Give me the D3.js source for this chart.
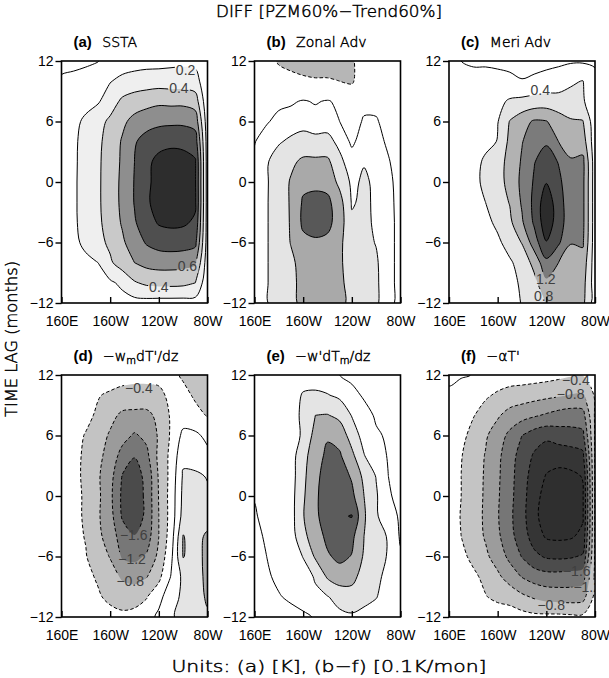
<!DOCTYPE html>
<html>
<head>
<meta charset="utf-8">
<script src="https://cdn.jsdelivr.net/npm/d3@7"></script>
<style>
  body { margin: 0; background: #fff; }
  svg { display: block; }
  .thin { font-family: "DejaVu Sans", sans-serif; font-weight: 200; fill: #000; stroke: #000; stroke-width: 0.45px; }
  .helv { font-family: "Liberation Sans", Arial, sans-serif; }
</style>
</head>
<body>
<svg id="chart" width="609" height="678"></svg>
<script>
// grid: longitude (deg E) x time lag (months), rows run from lag +12 down to -12
const lons = [160, 170, 180, 190, 200, 210, 220, 230, 240, 250, 260, 270, 280];
const lags = [12, 10, 8, 6, 4, 2, 0, -2, -4, -6, -8, -10, -12];
const lonTicks = [160, 200, 240, 280];
const lonTickLabels = ["160E", "160W", "120W", "80W"];
const lagTicks = [12, 6, 0, -6, -12];

// (a) SSTA [K]
const sstaGrid = [
  [-0.06, -0.05, -0.03, -0.005, 0.06, 0.10, 0.12, 0.13, 0.13, 0.15, 0.16, 0.15, 0.05],
  [0.03, 0.05, 0.07, 0.10, 0.19, 0.25, 0.28, 0.30, 0.31, 0.30, 0.30, 0.28, 0.05],
  [0.12, 0.13, 0.15, 0.18, 0.30, 0.44, 0.50, 0.53, 0.56, 0.55, 0.55, 0.50, 0.05],
  [0.10, 0.16, 0.23, 0.33, 0.44, 0.56, 0.66, 0.72, 0.75, 0.76, 0.76, 0.72, 0.08],
  [0.10, 0.17, 0.26, 0.36, 0.48, 0.62, 0.78, 0.88, 0.94, 0.96, 0.95, 0.90, 0.10],
  [0.10, 0.17, 0.27, 0.37, 0.49, 0.63, 0.80, 0.96, 1.05, 1.08, 1.07, 1.02, 0.10],
  [0.10, 0.17, 0.28, 0.37, 0.50, 0.64, 0.81, 0.96, 1.07, 1.12, 1.10, 1.02, 0.10],
  [0.10, 0.17, 0.28, 0.37, 0.50, 0.64, 0.81, 0.97, 1.08, 1.13, 1.12, 1.03, 0.10],
  [0.10, 0.17, 0.27, 0.36, 0.49, 0.62, 0.78, 0.92, 1.02, 1.04, 1.03, 0.97, 0.10],
  [0.10, 0.16, 0.24, 0.34, 0.44, 0.57, 0.70, 0.82, 0.88, 0.90, 0.89, 0.85, 0.10],
  [0.10, 0.13, 0.16, 0.20, 0.37, 0.50, 0.60, 0.66, 0.68, 0.68, 0.67, 0.63, 0.08],
  [0.10, 0.12, 0.13, 0.14, 0.17, 0.24, 0.38, 0.44, 0.46, 0.46, 0.45, 0.40, 0.05],
  [0.12, 0.12, 0.12, 0.12, 0.12, 0.13, 0.13, 0.13, 0.12, 0.12, 0.12, 0.12, 0.05]
];
// (b) zonal advection [0.1K/mon]
const zonalGrid = [
  [0.10, 0.00, -0.25, -0.35, -0.40, -0.45, -0.45, -0.40, -0.25, 0.00, 0.05, 0.05, 0.00],
  [0.10, 0.10, 0.00, -0.05, -0.12, -0.15, -0.15, -0.20, -0.25, 0.05, 0.10, 0.10, 0.00],
  [0.05, 0.10, 0.15, 0.17, 0.22, 0.18, 0.22, 0.15, 0.10, 0.15, 0.14, 0.10, 0.00],
  [0.12, 0.18, 0.26, 0.30, 0.33, 0.30, 0.32, 0.20, 0.12, 0.22, 0.22, 0.12, 0.00],
  [0.19, 0.30, 0.38, 0.44, 0.48, 0.46, 0.46, 0.35, 0.16, 0.30, 0.28, 0.16, 0.02],
  [0.24, 0.38, 0.50, 0.70, 0.90, 0.90, 0.90, 0.45, 0.30, 0.38, 0.32, 0.22, 0.08],
  [0.26, 0.38, 0.52, 0.85, 1.10, 1.12, 1.05, 0.70, 0.33, 0.45, 0.34, 0.25, 0.12],
  [0.27, 0.38, 0.55, 0.85, 1.25, 1.30, 1.30, 0.95, 0.37, 0.46, 0.35, 0.25, 0.14],
  [0.27, 0.38, 0.55, 0.84, 1.28, 1.35, 1.32, 1.00, 0.45, 0.46, 0.36, 0.25, 0.15],
  [0.27, 0.38, 0.55, 0.82, 1.10, 1.15, 1.10, 0.90, 0.50, 0.46, 0.39, 0.25, 0.15],
  [0.27, 0.38, 0.55, 0.72, 0.95, 1.00, 1.00, 0.88, 0.55, 0.47, 0.43, 0.25, 0.15],
  [0.27, 0.38, 0.55, 0.70, 0.92, 1.00, 1.00, 0.90, 0.62, 0.47, 0.44, 0.25, 0.15],
  [0.27, 0.38, 0.55, 0.70, 0.90, 1.00, 1.00, 0.90, 0.70, 0.47, 0.44, 0.25, 0.15]
];
// (c) meridional advection
const meriGrid = [
  [0.05, 0.00, -0.05, -0.05, -0.08, -0.10, -0.15, -0.15, -0.12, -0.08, -0.05, -0.05, -0.05],
  [0.10, 0.10, 0.12, 0.12, 0.12, 0.08, 0.02, 0.08, 0.15, 0.20, 0.36, 0.41, 0.10],
  [0.10, 0.10, 0.12, 0.15, 0.30, 0.45, 0.50, 0.55, 0.58, 0.55, 0.50, 0.45, 0.10],
  [0.08, 0.10, 0.12, 0.20, 0.38, 0.82, 1.05, 1.25, 1.22, 1.00, 0.85, 0.82, 0.15],
  [0.05, 0.08, 0.12, 0.25, 0.42, 0.90, 1.18, 1.45, 1.55, 1.20, 1.00, 1.00, 0.15],
  [0.05, 0.10, 0.20, 0.50, 0.70, 0.88, 1.25, 1.58, 1.80, 1.58, 1.25, 1.30, 0.18],
  [0.05, 0.10, 0.25, 0.52, 0.68, 0.90, 1.30, 1.64, 1.98, 1.70, 1.32, 1.30, 0.18],
  [0.05, 0.10, 0.20, 0.40, 0.62, 0.82, 1.25, 1.70, 2.25, 1.78, 1.35, 1.30, 0.18],
  [0.05, 0.08, 0.15, 0.30, 0.48, 0.72, 1.15, 1.66, 2.25, 1.80, 1.35, 1.30, 0.18],
  [0.05, 0.05, 0.10, 0.20, 0.33, 0.55, 0.82, 1.40, 1.98, 1.66, 1.22, 1.25, 0.18],
  [0.05, 0.05, 0.08, 0.12, 0.20, 0.35, 0.55, 0.92, 1.50, 1.20, 1.00, 1.05, 0.18],
  [0.05, 0.05, 0.05, 0.10, 0.15, 0.30, 0.45, 0.68, 1.12, 1.00, 0.95, 0.95, 0.18],
  [0.05, 0.05, 0.05, 0.08, 0.12, 0.25, 0.42, 0.60, 0.82, 0.90, 0.90, 0.90, 0.18]
];
// (d) -w_m dT'/dz
const wmGrid = [
  [-0.10, -0.12, -0.15, -0.20, -0.22, -0.26, -0.28, -0.28, -0.28, -0.30, -0.45, -0.55, -0.50],
  [-0.15, -0.20, -0.28, -0.38, -0.45, -0.52, -0.55, -0.55, -0.50, -0.30, -0.30, -0.45, -0.45],
  [-0.15, -0.22, -0.32, -0.45, -0.68, -0.88, -0.90, -0.90, -0.70, -0.35, -0.20, -0.30, -0.42],
  [-0.18, -0.30, -0.42, -0.62, -0.85, -1.05, -1.25, -1.10, -0.75, -0.35, 0.10, 0.08, -0.10],
  [-0.20, -0.32, -0.45, -0.70, -0.95, -1.35, -1.58, -1.30, -0.70, -0.30, 0.30, 0.25, 0.10],
  [-0.20, -0.32, -0.46, -0.75, -1.05, -1.62, -1.76, -1.50, -0.75, -0.28, 0.45, 0.45, 0.38],
  [-0.20, -0.30, -0.45, -0.72, -1.10, -1.68, -1.86, -1.50, -0.78, -0.25, 0.50, 0.55, 0.45],
  [-0.22, -0.30, -0.45, -0.75, -1.05, -1.65, -1.86, -1.50, -0.80, -0.25, 0.55, 0.60, 0.50],
  [-0.22, -0.30, -0.42, -0.70, -1.00, -1.38, -1.58, -1.40, -0.80, -0.20, 0.82, 0.60, 0.90],
  [-0.20, -0.28, -0.38, -0.62, -0.82, -1.25, -1.30, -1.15, -0.70, -0.10, 0.82, 0.60, 0.95],
  [-0.15, -0.22, -0.30, -0.45, -0.65, -0.85, -0.95, -0.82, -0.50, 0.02, 0.50, 0.55, 0.95],
  [-0.10, -0.15, -0.22, -0.35, -0.50, -0.60, -0.55, -0.42, -0.15, 0.30, 0.45, 0.50, 0.90],
  [-0.05, -0.10, -0.15, -0.20, -0.25, -0.30, -0.28, -0.20, 0.10, 0.38, 0.45, 0.50, 0.70]
];
// (e) -w' dT_m/dz
const wpGrid = [
  [0.15, 0.20, 0.25, 0.28, 0.30, 0.25, 0.15, 0.00, -0.10, -0.15, -0.20, -0.20, -0.20],
  [0.15, 0.20, 0.25, 0.30, 0.42, 0.45, 0.42, 0.32, 0.12, -0.05, -0.10, -0.15, -0.15],
  [0.12, 0.15, 0.20, 0.28, 0.46, 0.80, 0.82, 0.70, 0.38, 0.15, -0.05, -0.10, -0.12],
  [0.10, 0.13, 0.18, 0.25, 0.45, 0.95, 1.15, 1.05, 0.62, 0.25, 0.05, -0.05, -0.10],
  [0.08, 0.12, 0.15, 0.22, 0.68, 1.00, 1.30, 1.25, 0.90, 0.42, 0.12, -0.02, -0.08],
  [0.04, 0.10, 0.14, 0.22, 0.72, 1.05, 1.45, 1.40, 1.15, 0.70, 0.38, 0.00, -0.05],
  [0.01, 0.06, 0.12, 0.25, 0.75, 1.10, 1.50, 1.50, 1.30, 0.80, 0.45, 0.02, -0.05],
  [-0.02, 0.06, 0.10, 0.25, 0.78, 1.10, 1.45, 1.55, 1.62, 0.85, 0.45, 0.15, -0.05],
  [-0.08, 0.04, 0.08, 0.22, 0.70, 1.00, 1.30, 1.45, 1.30, 0.80, 0.50, 0.38, -0.05],
  [-0.10, 0.00, 0.03, 0.10, 0.42, 0.85, 1.15, 1.30, 1.18, 0.75, 0.50, 0.38, 0.05],
  [-0.12, -0.04, 0.06, 0.08, 0.18, 0.45, 0.85, 1.00, 0.95, 0.60, 0.48, 0.30, 0.05],
  [-0.15, -0.12, -0.02, 0.05, 0.12, 0.30, 0.38, 0.55, 0.60, 0.50, 0.42, 0.20, 0.05],
  [-0.15, -0.15, -0.12, -0.10, -0.05, 0.02, 0.15, 0.30, 0.35, 0.30, 0.20, 0.10, 0.02]
];
// (f) -alpha T'
const dampGrid = [
  [0.06, 0.03, -0.01, -0.12, -0.20, -0.20, -0.20, -0.22, -0.25, -0.30, -0.36, -0.38, -0.30],
  [-0.05, -0.15, -0.25, -0.35, -0.45, -0.55, -0.60, -0.65, -0.70, -0.75, -0.82, -0.85, -0.35],
  [-0.10, -0.22, -0.38, -0.55, -0.75, -0.95, -1.05, -1.15, -1.25, -1.35, -1.40, -1.35, -0.35],
  [-0.12, -0.30, -0.52, -0.75, -1.00, -1.30, -1.60, -1.80, -1.90, -1.80, -1.75, -1.70, -0.35],
  [-0.15, -0.38, -0.60, -0.82, -1.10, -1.45, -1.75, -2.05, -2.25, -2.25, -2.20, -2.10, -0.35],
  [-0.18, -0.40, -0.62, -0.84, -1.13, -1.48, -1.80, -2.20, -2.42, -2.50, -2.48, -2.38, -0.35],
  [-0.20, -0.40, -0.62, -0.85, -1.15, -1.50, -1.82, -2.30, -2.50, -2.60, -2.60, -2.45, -0.35],
  [-0.20, -0.42, -0.63, -0.86, -1.17, -1.52, -1.85, -2.32, -2.55, -2.62, -2.62, -2.45, -0.35],
  [-0.18, -0.40, -0.60, -0.84, -1.12, -1.48, -1.80, -2.18, -2.45, -2.48, -2.45, -2.30, -0.35],
  [-0.12, -0.30, -0.50, -0.72, -0.98, -1.30, -1.62, -1.90, -2.05, -2.08, -2.05, -1.95, -0.35],
  [-0.05, -0.18, -0.32, -0.50, -0.72, -0.98, -1.22, -1.38, -1.45, -1.45, -1.42, -1.38, -0.32],
  [-0.03, -0.08, -0.15, -0.38, -0.50, -0.55, -0.72, -0.85, -0.95, -0.98, -1.00, -0.95, -0.30],
  [-0.02, -0.03, -0.05, -0.10, -0.15, -0.20, -0.25, -0.30, -0.30, -0.30, -0.32, -0.32, -0.20]
];

// contour levels per panel
const levelsA = [0, 0.2, 0.4, 0.6, 0.8, 1.0];
const levelsB = [-0.2, 0.2, 0.4, 0.8, 1.2];
const levelsC = [0, 0.4, 0.8, 1.2, 1.6, 2.0];
const levelsD = [-1.6, -1.2, -0.8, -0.4, 0, 0.4, 0.8];
const levelsE = [0, 0.4, 0.8, 1.2, 1.6];
const levelsF = [-2.4, -2.0, -1.6, -1.2, -0.8, -0.4, 0];

// contour labels: [level, lon, lag]
const labelsA = [[0.2, 262, 11.1], [0.4, 256.5, 9.3], [0.6, 263.5, -8.3], [0.4, 240, -10.4]];
const labelsB = [];
const labelsC = [[0.4, 235, 9.1], [1.2, 239.6, -9.6], [0.8, 237.8, -11.3]];
const labelsD = [[-0.4, 223.6, 10.7], [-1.6, 219.4, -3.9], [-1.2, 218, -6.25], [-0.8, 216.5, -8.4]];
const labelsE = [];
const labelsF = [[-0.4, 264.3, 11.5], [-0.8, 260, 10.1], [-1.6, 265, -7.4], [-1.2, 273.6, -9], [-0.8, 244, -10.8]];

const panelTags = ["(a)", "(b)", "(c)", "(d)", "(e)", "(f)"];
const panelNames = [
  [["SSTA"]],
  [["Zonal Adv"]],
  [["Meri Adv"]],
  [["\u2212w"], ["m", "sub"], ["dT'/dz"]],
  [["\u2212w'dT"], ["m", "sub"], ["/dz"]],
  [["\u2212\u03b1T'"]]
];

// grey shades, one per level (more extreme -> darker); "none" = line only
const shadeA = ["none", "#efefef", "#c9c9c9", "#8e8e8e", "#4f4f4f", "#2d2d2d"];
const shadeB = ["#b6b6b6", "none", "#e4e4e4", "#a9a9a9", "#585858"];
const shadeC = ["none", "#e4e4e4", "#b2b2b2", "#7b7b7b", "#4b4b4b", "#2c2c2c"];
const shadeD = ["#4b4b4b", "#777777", "#9b9b9b", "#c3c3c3", "none", "#e4e4e4", "#ababab"];
const shadeE = ["none", "#e4e4e4", "#aeaeae", "#5c5c5c", "#333333"];
const shadeF = ["#2f2f2f", "#353535", "#4c4c4c", "#767676", "#9c9c9c", "#c4c4c4", "none"];

const panels = [
  { id: "a", grid: sstaGrid, levels: levelsA, shades: shadeA, labels: labelsA },
  { id: "b", grid: zonalGrid, levels: levelsB, shades: shadeB, labels: labelsB },
  { id: "c", grid: meriGrid, levels: levelsC, shades: shadeC, labels: labelsC },
  { id: "d", grid: wmGrid, levels: levelsD, shades: shadeD, labels: labelsD },
  { id: "e", grid: wpGrid, levels: levelsE, shades: shadeE, labels: labelsE },
  { id: "f", grid: dampGrid, levels: levelsF, shades: shadeF, labels: labelsF }
];

const colX = [61.5, 254.5, 449];
const rowY = [61, 375];
const W = 146, H = 242;

const fmt = (v) => (v < 0 ? "\u2212" : "") + Math.abs(v);

const svg = d3.select("#chart");
const defs = svg.append("defs");

svg.append("text")
  .attr("class", "thin")
  .attr("x", 329).attr("y", 17)
  .attr("text-anchor", "middle")
  .attr("font-size", 16)
  .attr("textLength", 226)
  .attr("lengthAdjust", "spacingAndGlyphs")
  .text("DIFF [PZM60%\u2212Trend60%]");

svg.append("text")
  .attr("class", "thin")
  .attr("x", 329).attr("y", 672)
  .attr("text-anchor", "middle")
  .attr("font-size", 16)
  .attr("textLength", 315)
  .attr("lengthAdjust", "spacingAndGlyphs")
  .text("Units: (a) [K], (b\u2212f) [0.1K/mon]");

svg.append("text")
  .attr("class", "thin")
  .attr("transform", "translate(17,339) rotate(-90)")
  .attr("text-anchor", "middle")
  .attr("font-size", 16)
  .attr("textLength", 156)
  .attr("lengthAdjust", "spacingAndGlyphs")
  .text("TIME LAG (months)");

const ringLine = d3.line().curve(d3.curveCatmullRomClosed.alpha(0.5));
const nx = lons.length, ny = lags.length;
const contourGen = d3.contours().size([nx, ny]).smooth(true);

panels.forEach((p, i) => {
  const ox = colX[i % 3], oy = rowY[Math.floor(i / 3)];
  const x = d3.scaleLinear().domain([lons[0], lons[nx - 1]]).range([ox, ox + W]);
  const y = d3.scaleLinear().domain([lags[0], lags[ny - 1]]).range([oy, oy + H]);
  const dLon = lons[1] - lons[0], dLag = lags[1] - lags[0];
  const toPx = ([gx, gy]) => [x(lons[0] + (gx - 0.5) * dLon), y(lags[0] + (gy - 0.5) * dLag)];

  const values = p.grid.flat();
  const negValues = values.map((v) => -v);

  const pathFor = (lev) => {
    const geo = lev < 0 ? contourGen.contour(negValues, -lev) : contourGen.contour(values, lev);
    return geo.coordinates
      .map((poly) => poly.map((ring) => ringLine(ring.slice(0, -1).map(toPx))).join(""))
      .join("");
  };

  defs.append("clipPath").attr("id", `clip-${p.id}`)
    .append("rect").attr("x", ox).attr("y", oy).attr("width", W).attr("height", H);
  const mask = defs.append("mask").attr("id", `mask-${p.id}`)
    .attr("maskUnits", "userSpaceOnUse")
    .attr("x", 0).attr("y", 0).attr("width", 609).attr("height", 678);
  mask.append("rect").attr("width", 609).attr("height", 678).attr("fill", "#fff");

  const g = svg.append("g").attr("clip-path", `url(#clip-${p.id})`);
  g.append("rect").attr("x", ox).attr("y", oy).attr("width", W).attr("height", H).attr("fill", "#fff");

  // fills: positive ascending, negative by growing magnitude
  const order = p.levels.map((lev, k) => ({ lev, shade: p.shades[k] }))
    .sort((a, b) => Math.abs(a.lev) - Math.abs(b.lev) || a.lev - b.lev);
  g.append("g").selectAll("path")
    .data(order.filter((d) => d.shade !== "none"))
    .join("path")
    .attr("d", (d) => pathFor(d.lev))
    .attr("fill", (d) => d.shade)
    .attr("fill-rule", "evenodd")
    .attr("stroke", "none");

  g.append("g").attr("mask", `url(#mask-${p.id})`)
    .selectAll("path")
    .data(p.levels)
    .join("path")
    .attr("d", (d) => pathFor(d))
    .attr("fill", "none")
    .attr("stroke", "#000")
    .attr("stroke-width", 1)
    .attr("stroke-dasharray", (d) => (d < 0 ? "3.5,2.2" : null));

  const labs = g.append("g").selectAll("text")
    .data(p.labels)
    .join("text")
    .attr("class", "helv")
    .attr("x", (d) => x(d[1]))
    .attr("y", (d) => y(d[2]))
    .attr("dy", "0.36em")
    .attr("text-anchor", "middle")
    .attr("font-size", 14)
    .attr("fill", "#404040")
    .text((d) => fmt(d[0]));
  labs.each(function () {
    const b = this.getBBox();
    mask.append("rect").attr("x", b.x - 1).attr("y", b.y + 1)
      .attr("width", b.width + 2).attr("height", b.height - 2).attr("fill", "#000");
  });

  // frame
  svg.append("rect").attr("x", ox).attr("y", oy).attr("width", W).attr("height", H)
    .attr("fill", "none").attr("stroke", "#000").attr("stroke-width", 1.6);

  // axes
  const xAxis = d3.axisBottom(x).tickValues(lonTicks)
    .tickFormat((d, k) => lonTickLabels[k]).tickSizeInner(-6).tickSizeOuter(0).tickPadding(13);
  svg.append("g").attr("transform", `translate(0,${oy + H})`).call(xAxis)
    .call((a) => a.select(".domain").remove())
    .call((a) => a.selectAll("line").attr("stroke-width", 1.4))
    .call((a) => a.selectAll("text").attr("class", "helv").attr("font-size", 14).attr("fill", "#000"));

  const yAxis = d3.axisLeft(y).tickValues(lagTicks)
    .tickFormat(fmt).tickSizeInner(6).tickSizeOuter(0).tickPadding(2);
  svg.append("g").attr("transform", `translate(${ox},0)`).call(yAxis)
    .call((a) => a.select(".domain").remove())
    .call((a) => a.selectAll("line").attr("stroke-width", 1.4))
    .call((a) => a.selectAll("text").attr("class", "helv").attr("font-size", 14).attr("fill", "#000"));

  // title
  const t = svg.append("text").attr("x", ox + 12).attr("y", oy - 14);
  t.append("tspan").attr("class", "helv").attr("font-weight", "bold").attr("font-size", 15).text(panelTags[i]);
  t.append("tspan").attr("class", "thin").attr("font-size", 14).attr("dx", 6).text(" ");
  panelNames[i].forEach(([s, kind]) => {
    const ts = t.append("tspan").attr("class", "thin").text(s);
    if (kind === "sub") ts.attr("font-size", 10).attr("baseline-shift", "-25%");
    else ts.attr("font-size", 14);
  });
});
</script>
</body>
</html>
